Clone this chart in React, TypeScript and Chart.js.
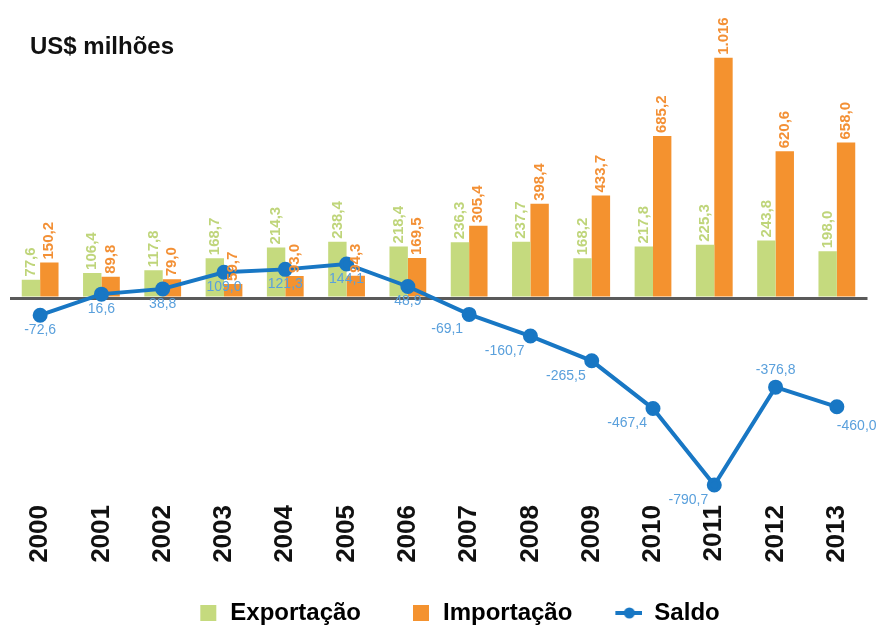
import React, { useEffect, useRef } from 'react';
import { Chart, registerables } from 'chart.js';

Chart.register(...registerables);

const years = ['2000', '2001', '2002', '2003', '2004', '2005', '2006', '2007', '2008', '2009', '2010', '2011', '2012', '2013'];
const exportacao = [77.6, 106.4, 117.8, 168.7, 214.3, 238.4, 218.4, 236.3, 237.7, 168.2, 217.8, 225.3, 243.8, 198.0];
const importacao = [150.2, 89.8, 79.0, 59.7, 93.0, 94.3, 169.5, 305.4, 398.4, 433.7, 685.2, 1016.0, 620.6, 658.0];
const saldo = [-72.6, 16.6, 38.8, 109.0, 121.3, 144.1, 48.9, -69.1, -160.7, -265.5, -467.4, -790.7, -376.8, -460.0];
const seriesNames = ['Exportação', 'Importação', 'Saldo'];
const unitTitle = 'US$ milhões';

const GREEN = '#c5da7e';
const GREEN_LABEL = '#bfd57a';
const ORANGE = '#f4922f';
const ORANGE_LABEL = '#f39035';
const BLUE = '#1877c4';
const BLUE_LABEL = '#5aa0dc';
const FONT = "'Liberation Sans', Arial, sans-serif";

function fmt(v: number): string {
  if (Math.abs(v) >= 1000) {
    const s = Math.round(v).toString();
    return s.replace(/\B(?=(\d{3})+(?!\d))/g, '.');
  }
  return v.toFixed(1).replace('.', ',');
}

function makeSwatch(kind: 'box' | 'line', color: string, w: number): HTMLCanvasElement {
  const c = document.createElement('canvas');
  c.width = w;
  c.height = 18;
  const g = c.getContext('2d')!;
  if (kind === 'box') {
    g.fillStyle = color;
    g.fillRect(w - 18, 1, 16, 16);
  } else {
    g.strokeStyle = color;
    g.lineWidth = 4;
    g.beginPath();
    g.moveTo(w - 27, 9);
    g.lineTo(w, 9);
    g.stroke();
    g.fillStyle = color;
    g.beginPath();
    g.arc(w - 13, 9, 5.5, 0, Math.PI * 2);
    g.fill();
  }
  return c;
}

const labelPlugin = {
  id: 'valueLabels',
  afterDatasetsDraw(chart: any) {
    const ctx = chart.ctx as CanvasRenderingContext2D;
    chart.data.datasets.forEach((ds: any, di: number) => {
      const meta = chart.getDatasetMeta(di);
      const n = ds.data.length;
      meta.data.forEach((el: any, i: number) => {
        const v = ds.data[i] as number;
        const txt = fmt(v);
        ctx.save();
        if (ds.type === 'line') {
          ctx.font = `14px ${FONT}`;
          ctx.fillStyle = BLUE_LABEL;
          const above = v < 0 && i > 0 && i < n - 1 && v > ds.data[i - 1] && v > ds.data[i + 1];
          if (above) {
            ctx.textAlign = 'center';
            ctx.textBaseline = 'bottom';
            ctx.fillText(txt, el.x, el.y - 10);
          } else if (v >= 0 || i === 0) {
            ctx.textAlign = 'center';
            ctx.textBaseline = 'top';
            ctx.fillText(txt, el.x, el.y + 8);
          } else if (i === n - 1) {
            ctx.textAlign = 'left';
            ctx.textBaseline = 'top';
            ctx.fillText(txt, el.x, el.y + 12);
          } else {
            ctx.textAlign = 'right';
            ctx.textBaseline = 'top';
            ctx.fillText(txt, el.x - 6, el.y + 8);
          }
        } else {
          ctx.translate(el.x, el.y - 3);
          ctx.rotate(-Math.PI / 2);
          ctx.font = `bold 15px ${FONT}`;
          ctx.fillStyle = ds.labelColor;
          ctx.textAlign = 'left';
          ctx.textBaseline = 'middle';
          ctx.fillText(txt, 0, 0);
        }
        ctx.restore();
      });
    });
    ctx.save();
    ctx.font = `bold 24px ${FONT}`;
    ctx.fillStyle = '#111';
    ctx.textAlign = 'left';
    ctx.textBaseline = 'alphabetic';
    ctx.fillText(unitTitle, 30, 54);
    ctx.restore();
  },
};

export default function App() {
  const ref = useRef<HTMLCanvasElement | null>(null);
  useEffect(() => {
    document.body.style.margin = '0';
    const canvas = ref.current!;
    const W = 60;
    const swatches = [makeSwatch('box', GREEN, W), makeSwatch('box', ORANGE, W), makeSwatch('line', BLUE, W)];
    const chart = new Chart(canvas, {
      type: 'bar',
      data: {
        labels: years,
        datasets: [
          {
            type: 'bar',
            label: seriesNames[0],
            data: exportacao,
            backgroundColor: GREEN,
            labelColor: GREEN_LABEL,
            categoryPercentage: 0.6,
            barPercentage: 1.0,
            order: 1,
          } as any,
          {
            type: 'bar',
            label: seriesNames[1],
            data: importacao,
            backgroundColor: ORANGE,
            labelColor: ORANGE_LABEL,
            categoryPercentage: 0.6,
            barPercentage: 1.0,
            order: 1,
          } as any,
          {
            type: 'line',
            label: seriesNames[2],
            data: saldo,
            borderColor: BLUE,
            backgroundColor: BLUE,
            borderWidth: 4,
            pointRadius: 5.5,
            pointBackgroundColor: BLUE,
            pointBorderColor: BLUE,
            tension: 0,
            order: 0,
          } as any,
        ],
      },
      options: {
        responsive: false,
        animation: false,
        events: [],
        layout: { padding: { top: 38, left: 9, right: 8, bottom: -8 } },
        plugins: {
          tooltip: { enabled: false },
          title: { display: false },
          legend: {
            display: true,
            position: 'bottom',
            labels: {
              usePointStyle: true,
              pointStyleWidth: W,
              padding: 10,
              color: '#111',
              font: { family: FONT, size: 24, weight: 'bold' },
              generateLabels: () =>
                seriesNames.map((name, i) => ({
                  text: name,
                  fillStyle: 'transparent',
                  strokeStyle: 'transparent',
                  lineWidth: 0,
                  pointStyle: swatches[i],
                  hidden: false,
                  datasetIndex: i,
                })),
            },
          },
        },
        scales: {
          x: {
            grid: { display: false, drawTicks: false },
            border: { display: false },
            ticks: {
              autoSkip: false,
              minRotation: 90,
              maxRotation: 90,
              padding: 6,
              color: '#111',
              font: { family: FONT, size: 26, weight: 'bold' },
            },
            afterFit: (s: any) => {
              s.height = 92;
            },
          },
          y: {
            min: -850,
            max: 1100,
            ticks: { display: false, stepSize: 50 },
            border: { display: false },
            grid: {
              drawTicks: false,
              lineWidth: 3,
              color: (c: any) => (c.tick && c.tick.value === 0 ? '#5a5a5a' : 'rgba(0,0,0,0)'),
            },
            afterFit: (s: any) => {
              s.width = 0;
            },
          },
        },
      },
      plugins: [labelPlugin],
    });
    return () => chart.destroy();
  }, []);
  return (
    <div style={{ width: 877, height: 627, position: 'relative', background: '#fff' }}>
      <canvas ref={ref} width={877} height={627} />
    </div>
  );
}
